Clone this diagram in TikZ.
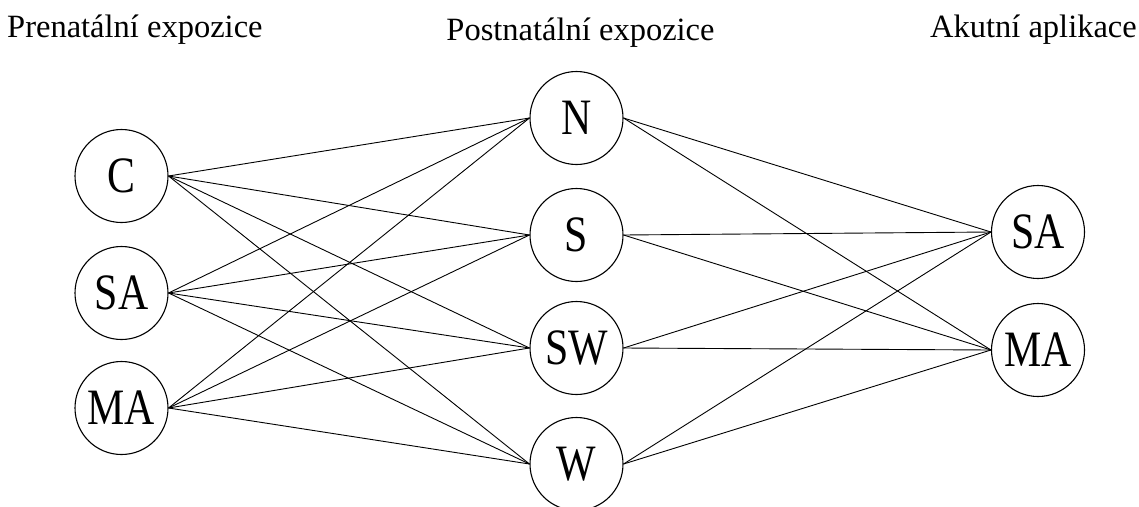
\documentclass[tikz,border=0pt]{standalone}
\usepackage{fontspec}
\usepackage{graphicx}
\setmainfont{Liberation Serif}
\tikzset{
  circ/.style={draw, circle, line width=1.1pt, minimum size=93pt, inner sep=0pt,
    font=\fontsize{51}{51}\selectfont},
  lab/.style={inner sep=0pt, font=\fontsize{32.5}{40}\selectfont},
  edge/.style={line width=0.9pt}
}
\newcommand{\sq}[1]{\scalebox{0.82}[1]{#1}}
\begin{document}
\begin{tikzpicture}[x=1pt,y=-1pt]
\useasboundingbox (0,0) rectangle (1139,506);
\node[lab, anchor=base west] (t1) at (7,37) {Prenatální expozice};
\node[lab, anchor=base] (t2) at (580.5,40) {Postnatální expozice};
\node[lab, anchor=base east] (t3) at (1137,37) {Akutní aplikace};
\node[circ] (C) at (121.5,176) {\sq{C}};
\node[circ] (LSA) at (121.5,293) {\sq{SA}};
\node[circ] (LMA) at (121.5,408) {\sq{MA}};
\node[circ] (N) at (576.5,118) {\sq{N}};
\node[circ] (S) at (576.5,235) {\sq{S}};
\node[circ] (SW) at (576.5,348) {\sq{SW}};
\node[circ] (W) at (576.5,464) {\sq{W}};
\node[circ] (RSA) at (1038,232) {\sq{SA}};
\node[circ] (RMA) at (1038,350) {\sq{MA}};
\foreach \a in {C,LSA,LMA}{
  \foreach \b in {N,S,SW,W}{
    \draw[edge] (\a.east) -- (\b.west);
  }
}
\foreach \a in {N,S,SW,W}{
  \foreach \b in {RSA,RMA}{
    \draw[edge] (\a.east) -- (\b.west);
  }
}
\end{tikzpicture}
\end{document}
